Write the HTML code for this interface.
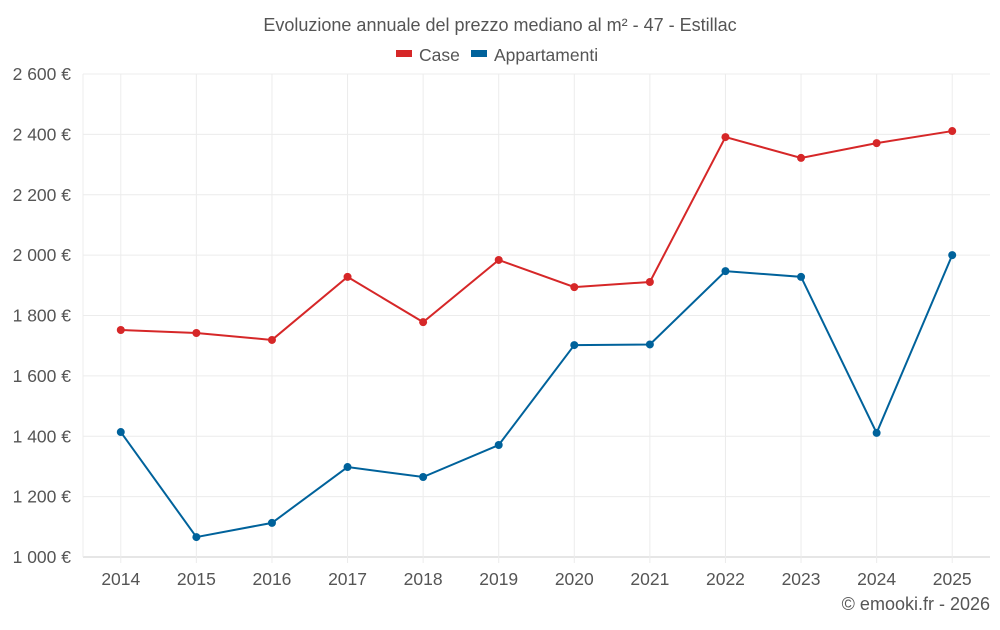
<!DOCTYPE html>
<html><head><meta charset="utf-8"><style>
body{margin:0;background:#fff;font-family:"Liberation Sans",sans-serif}
svg text{font-family:"Liberation Sans",sans-serif;fill:#555}
</style></head><body>
<svg id="chart" width="1000" height="625">
<text x="500" y="31" text-anchor="middle" font-size="18">Evoluzione annuale del prezzo mediano al m² - 47 - Estillac</text>
<g>
<rect x="396" y="50" width="16" height="7" fill="#d62728"/>
<text x="419" y="61" font-size="17.5">Case</text>
<rect x="471" y="50" width="16" height="7" fill="#00629b"/>
<text x="494" y="61" font-size="17.5">Appartamenti</text>
</g>
<g id="grid"></g><g id="axes"></g><g id="series"></g>
<text x="990" y="610" text-anchor="end" font-size="18">© emooki.fr - 2026</text>
</svg>
<script>
const years=[2014,2015,2016,2017,2018,2019,2020,2021,2022,2023,2024,2025];
const caseValues=[1752,1742,1719,1928,1778,1984,1894,1911,2391,2322,2371,2411];
const apptValues=[1414,1066,1113,1298,1265,1371,1702,1704,1947,1928,1411,2000];
const yTicks=[1000,1200,1400,1600,1800,2000,2200,2400,2600];
const yTickLabels=["1 000 €","1 200 €","1 400 €","1 600 €","1 800 €","2 000 €","2 200 €","2 400 €","2 600 €"];
const L=83,R=990,T=74,B=557,yMin=1000,yMax=2600;
const ns="http://www.w3.org/2000/svg";
const bw=(R-L)/years.length;
function x(i){return L+bw*(i+0.5);}
function y(v){return B-(v-yMin)/(yMax-yMin)*(B-T);}
function mk(tag,attrs,parent,text){const e=document.createElementNS(ns,tag);for(const k in attrs)e.setAttribute(k,attrs[k]);if(text!==undefined)e.textContent=text;parent.appendChild(e);return e;}
const grid=document.getElementById('grid'),axes=document.getElementById('axes'),ser=document.getElementById('series');
yTicks.forEach((v,i)=>{
 const l=mk('line',{x1:L,x2:R,y1:y(v),y2:y(v),stroke:i===0?'#ccc':'#ececec'},grid);
 
 
 const t=mk('text',{x:71,y:y(v)+6,'text-anchor':'end','font-size':17.5},axes,yTickLabels[i]);
 
 
});
const l0=mk('line',{x1:L,x2:L,y1:T,y2:B,stroke:'#ececec'},grid);


years.forEach((yr,i)=>{
 const l=mk('line',{x1:x(i),x2:x(i),y1:T,y2:B+6,stroke:'#ececec'},grid);
 
 
 const t=mk('text',{x:x(i),y:585,'text-anchor':'middle','font-size':17.5},axes,yr);
 
 
});
function draw(vals,color,name){
 const p=mk('polyline',{points:vals.map((v,i)=>x(i)+','+y(v)).join(' '),fill:'none',stroke:color,'stroke-width':2},ser);
 
 
 vals.forEach((v,i)=>{
  const c=mk('circle',{cx:x(i),cy:y(v),r:4,fill:color},ser);
  
  
 });
}
draw(caseValues,'#d62728','case');
draw(apptValues,'#00629b','appartamenti');
</script>
</body></html>
